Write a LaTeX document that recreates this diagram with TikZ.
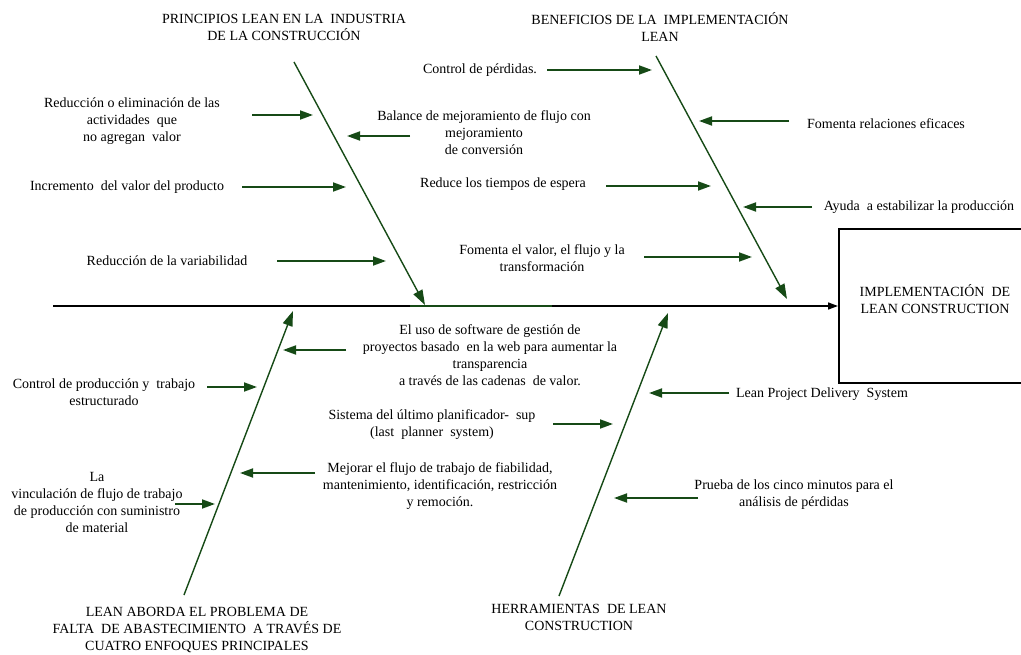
\documentclass[tikz,border=0pt]{standalone}
\usepackage{fontspec}
\setmainfont{Liberation Serif}
\usetikzlibrary{arrows.meta}
\definecolor{bonegreen}{RGB}{22,74,22}
\begin{document}
\begin{tikzpicture}[x=1pt,y=-1pt,
  txt/.style={align=center,font=\rmfamily\fontsize{14}{17}\selectfont,inner sep=0pt},
  bone/.style={bonegreen,line width=1.4pt,-{Triangle[length=15pt,width=10pt]}},
  sub/.style={bonegreen,line width=1.8pt,-{Triangle[length=13pt,width=9pt]}},
  spine/.style={black,line width=1.5pt,-{Triangle[length=10pt,width=7pt]}}]
\useasboundingbox (0,0) rectangle (1021,655);
% spine
\coordinate (s0) at (53,306);
\coordinate (s1) at (838,306);
\coordinate (g0) at (410,306);
\coordinate (g1) at (552,306);
\draw[spine] (s0) -- (s1);
\draw[bonegreen,line width=1.5pt] (g0) -- (g1);
% effect box
\coordinate (b1) at (1021,229);
\coordinate (b2) at (839,229);
\coordinate (b3) at (839,383);
\coordinate (b4) at (1021,383);
\draw[black,line width=1.5pt] (b1) -- (b2) -- (b3) -- (b4);
\node[txt] (effect) at (935,299) {IMPLEMENTACIÓN\ \ DE\\LEAN CONSTRUCTION};
% bones
\coordinate (tl0) at (294,62);  \coordinate (tl1) at (425,305);
\coordinate (tr0) at (656,56);  \coordinate (tr1) at (787,299);
\coordinate (bl0) at (184,595); \coordinate (bl1) at (293,311);
\coordinate (br0) at (559,596); \coordinate (br1) at (668,313);
\draw[bone] (tl0) -- (tl1);
\draw[bone] (tr0) -- (tr1);
\draw[bone] (bl0) -- (bl1);
\draw[bone] (br0) -- (br1);
% titles
\node[txt] (t1) at (284,27) {PRINCIPIOS LEAN EN LA\ \ INDUSTRIA\\DE LA CONSTRUCCIÓN};
\node[txt] (t2) at (660,27) {BENEFICIOS DE LA\ \ IMPLEMENTACIÓN\\LEAN};
\node[txt] (t3) at (197,630) {LEAN ABORDA EL PROBLEMA DE\\FALTA\ \ DE ABASTECIMIENTO\ \ A TRAVÉS DE\\CUATRO ENFOQUES PRINCIPALES};
\node[txt] (t4) at (579,617) {HERRAMIENTAS\ \ DE LEAN\\CONSTRUCTION};
% top-left causes
\node[txt] (c1) at (132,121) {Reducción o eliminación de las\\actividades\ \ que\\no agregan\ \ valor};
\node[txt] (c2) at (127,187) {Incremento\ \ del valor del producto};
\node[txt] (c3) at (167,261) {Reducción de la variabilidad};
\node[txt] (c4) at (484,133) {Balance de mejoramiento de flujo con\\mejoramiento\\de conversión};
\coordinate (a1s) at (252,115); \coordinate (a1e) at (313,115);
\coordinate (a2s) at (410,136); \coordinate (a2e) at (347,136);
\coordinate (a3s) at (242,187); \coordinate (a3e) at (346,187);
\coordinate (a4s) at (277,261); \coordinate (a4e) at (386,261);
\draw[sub] (a1s) -- (a1e);
\draw[sub] (a2s) -- (a2e);
\draw[sub] (a3s) -- (a3e);
\draw[sub] (a4s) -- (a4e);
% top-right causes
\node[txt] (d1) at (480,70) {Control de pérdidas.};
\node[txt] (d2) at (503,184) {Reduce los tiempos de espera};
\node[txt] (d3) at (542,258) {Fomenta el valor, el flujo y la\\transformación};
\node[txt] (d4) at (886,124) {Fomenta relaciones eficaces};
\node[txt] (d5) at (919,207) {Ayuda\ \ a estabilizar la producción};
\coordinate (e1s) at (547,70);  \coordinate (e1e) at (652,70);
\coordinate (e2s) at (789,121); \coordinate (e2e) at (699,121);
\coordinate (e3s) at (606,186); \coordinate (e3e) at (711,186);
\coordinate (e4s) at (812,207); \coordinate (e4e) at (743,207);
\coordinate (e5s) at (644,257); \coordinate (e5e) at (752,257);
\draw[sub] (e1s) -- (e1e);
\draw[sub] (e2s) -- (e2e);
\draw[sub] (e3s) -- (e3e);
\draw[sub] (e4s) -- (e4e);
\draw[sub] (e5s) -- (e5e);
% bottom-left causes
\node[txt] (f1) at (490,355) {El uso de software de gestión de\\proyectos basado\ \ en la web para aumentar la\\transparencia\\a través de las cadenas\ \ de valor.};
\node[txt] (f2) at (104,392) {Control de producción y\ \ trabajo\\estructurado};
\node[txt] (f3) at (440,486) {Mejorar el flujo de trabajo de fiabilidad,\\mantenimiento, identificación, restricción\\y remoción.};
\node[txt] (f4) at (97,502) {La\\vinculación de flujo de trabajo\\de producción con suministro\\de material};
\coordinate (h1s) at (346,350); \coordinate (h1e) at (283,350);
\coordinate (h2s) at (207,387); \coordinate (h2e) at (257,387);
\coordinate (h3s) at (315,473); \coordinate (h3e) at (240,473);
\coordinate (h4s) at (175,504); \coordinate (h4e) at (215,504);
\draw[sub] (h1s) -- (h1e);
\draw[sub] (h2s) -- (h2e);
\draw[sub] (h3s) -- (h3e);
\draw[sub] (h4s) -- (h4e);
% bottom-right causes
\node[txt] (k1) at (822,394) {Lean Project Delivery\ \ System};
\node[txt] (k2) at (432,425) {Sistema del último planificador-\ \ sup\\(last\ \ planner\ \ system)};
\node[txt] (k3) at (794,495) {Prueba de los cinco minutos para el\\análisis de pérdidas};
\coordinate (m1s) at (729,393); \coordinate (m1e) at (649,393);
\coordinate (m2s) at (553,424); \coordinate (m2e) at (613,424);
\coordinate (m3s) at (698,498); \coordinate (m3e) at (614,498);
\draw[sub] (m1s) -- (m1e);
\draw[sub] (m2s) -- (m2e);
\draw[sub] (m3s) -- (m3e);
\end{tikzpicture}
\end{document}
